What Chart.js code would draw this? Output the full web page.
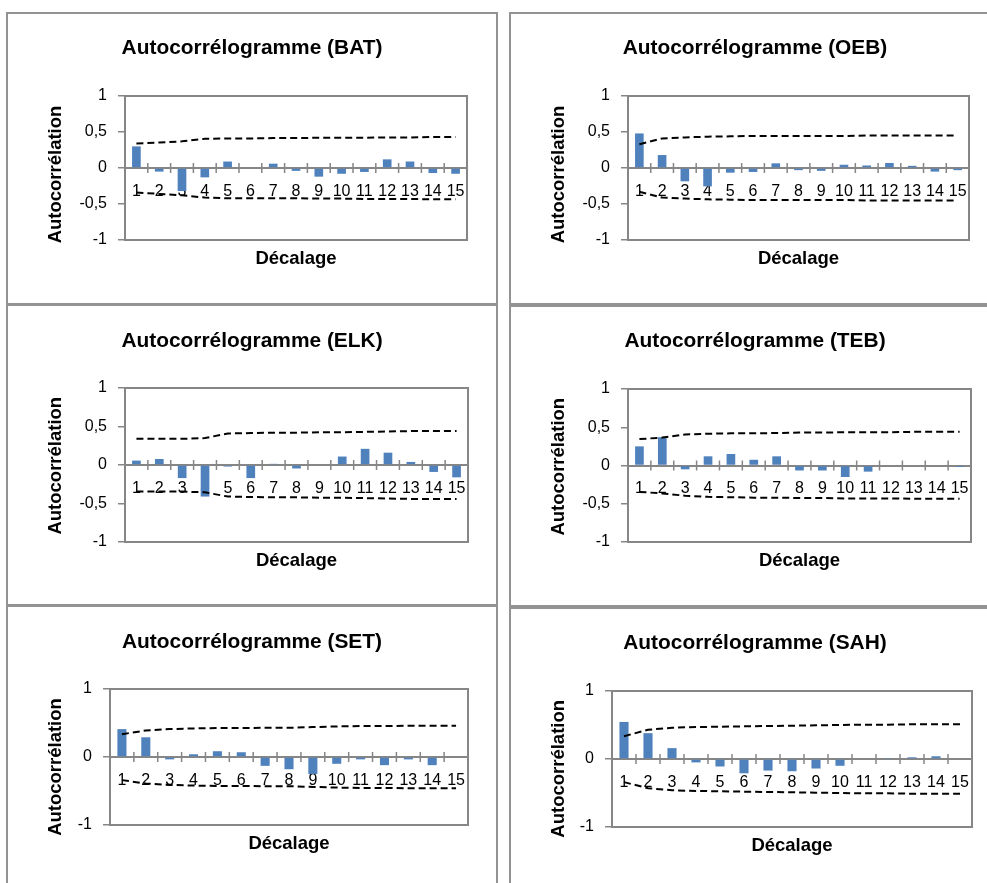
<!DOCTYPE html>
<html lang="fr">
<head>
<meta charset="utf-8">
<title>Autocorrélogrammes</title>
<script src="https://cdn.jsdelivr.net/npm/chart.js@4.4.1/dist/chart.umd.min.js"></script>
<style>
  html, body { margin: 0; padding: 0; background: #fff; width: 987px; height: 883px; overflow: hidden; }
  .frame { position: absolute; box-sizing: border-box; border: 2px solid #939393; }
  canvas { position: absolute; }
</style>
</head>
<body>
<div class="frame" style="left:6px;top:12px;width:492px;height:293px"></div>
<div class="frame" style="left:509px;top:12px;width:492px;height:293px"></div>
<div class="frame" style="left:6px;top:304px;width:492px;height:302px"></div>
<div class="frame" style="left:509px;top:305px;width:492px;height:302px"></div>
<div class="frame" style="left:6px;top:605px;width:492px;height:300px"></div>
<div class="frame" style="left:509px;top:607px;width:492px;height:300px"></div>

<canvas id="cBAT" width="490" height="291" style="left:7px;top:13px"></canvas>
<canvas id="cOEB" width="490" height="291" style="left:510px;top:13px"></canvas>
<canvas id="cELK" width="490" height="301" style="left:7px;top:304px"></canvas>
<canvas id="cTEB" width="490" height="302" style="left:510px;top:305px"></canvas>
<canvas id="cSET" width="490" height="290" style="left:7px;top:605px"></canvas>
<canvas id="cSAH" width="490" height="290" style="left:510px;top:607px"></canvas>

<script>
// Lags (décalages) shown on the category axis
const lags = ['1', '2', '3', '4', '5', '6', '7', '8', '9', '10', '11', '12', '13', '14', '15'];

// Autocorrelation coefficients and confidence bounds per series
const acfBAT = [0.30, -0.05, -0.32, -0.13, 0.09, 0.0, 0.06, -0.04, -0.12, -0.08, -0.055, 0.12, 0.09, -0.07, -0.08];
const upBAT  = [0.34, 0.355, 0.37, 0.405, 0.41, 0.41, 0.415, 0.415, 0.42, 0.42, 0.42, 0.425, 0.425, 0.43, 0.43];
const loBAT  = [-0.34, -0.36, -0.38, -0.41, -0.42, -0.42, -0.42, -0.42, -0.425, -0.425, -0.43, -0.43, -0.43, -0.435, -0.435];

const acfOEB = [0.48, 0.18, -0.185, -0.255, -0.065, -0.055, 0.065, -0.03, -0.04, 0.045, 0.035, 0.07, 0.03, -0.05, -0.03];
const upOEB  = [0.33, 0.41, 0.425, 0.435, 0.44, 0.445, 0.445, 0.445, 0.445, 0.445, 0.45, 0.45, 0.45, 0.45, 0.45];
const loOEB  = [-0.33, -0.41, -0.425, -0.435, -0.44, -0.445, -0.445, -0.445, -0.445, -0.445, -0.45, -0.45, -0.45, -0.45, -0.45];

const acfELK = [0.057, 0.078, -0.17, -0.41, -0.02, -0.17, 0.015, -0.045, 0.0, 0.11, 0.21, 0.16, 0.04, -0.09, -0.16];
const upELK  = [0.34, 0.34, 0.34, 0.35, 0.41, 0.415, 0.42, 0.42, 0.425, 0.425, 0.43, 0.435, 0.44, 0.44, 0.44];
const loELK  = [-0.345, -0.345, -0.345, -0.355, -0.41, -0.415, -0.42, -0.42, -0.425, -0.425, -0.43, -0.435, -0.44, -0.44, -0.44];

const acfTEB = [0.25, 0.37, -0.05, 0.12, 0.15, 0.075, 0.12, -0.065, -0.065, -0.15, -0.08, -0.01, 0.0, 0.0, -0.02];
const upTEB  = [0.345, 0.365, 0.405, 0.415, 0.42, 0.42, 0.425, 0.43, 0.43, 0.435, 0.435, 0.435, 0.44, 0.44, 0.44];
const loTEB  = [-0.345, -0.365, -0.395, -0.41, -0.415, -0.42, -0.42, -0.425, -0.425, -0.43, -0.43, -0.43, -0.435, -0.435, -0.435];

const acfSET = [0.41, 0.29, -0.035, 0.04, 0.085, 0.07, -0.13, -0.18, -0.25, -0.10, -0.035, -0.12, -0.035, -0.12, 0.0];
const upSET  = [0.335, 0.39, 0.41, 0.42, 0.425, 0.425, 0.43, 0.43, 0.44, 0.45, 0.455, 0.455, 0.46, 0.46, 0.46];
const loSET  = [-0.34, -0.39, -0.41, -0.42, -0.425, -0.425, -0.43, -0.43, -0.44, -0.45, -0.455, -0.455, -0.46, -0.46, -0.46];

const acfSAH = [0.545, 0.38, 0.16, -0.05, -0.11, -0.21, -0.17, -0.18, -0.14, -0.10, 0.0, 0.015, 0.025, 0.04, 0.0];
const upSAH  = [0.335, 0.43, 0.46, 0.47, 0.475, 0.48, 0.485, 0.49, 0.495, 0.5, 0.505, 0.505, 0.51, 0.51, 0.51];
const loSAH  = [-0.34, -0.43, -0.46, -0.47, -0.475, -0.48, -0.485, -0.49, -0.495, -0.5, -0.505, -0.505, -0.51, -0.51, -0.51];

// Styling
const FAMILY = "'Liberation Sans', Arial, sans-serif";
const AXIS_GREY = '#868686';
const BAR_BLUE = '#4F81BD';
const SIZE = { title: 20.9, axisTitle: 18.5, tick: 16 };

// Plot-area box and the small cross marks between lags on the zero line
const plotFrame = {
  id: 'plotFrame',
  afterDraw(chart, args, opts) {
    const { ctx, chartArea: a, scales: { x, y } } = chart;
    ctx.save();
    ctx.strokeStyle = opts.color;
    ctx.lineWidth = opts.width;
    ctx.strokeRect(a.left, a.top, a.right - a.left, a.bottom - a.top);
    const y0 = y.getPixelForValue(0);
    ctx.lineWidth = opts.tickWidth;
    ctx.beginPath();
    for (let i = 0; i < x.ticks.length - 1; i++) {
      const bx = (x.getPixelForValue(i) + x.getPixelForValue(i + 1)) / 2;
      ctx.moveTo(bx, y0 - opts.tickHalf);
      ctx.lineTo(bx, y0 + opts.tickHalf);
    }
    ctx.stroke();
    ctx.restore();
  }
};

// Vertical axis caption, placed at a fixed spot of the panel
const sideTitle = {
  id: 'sideTitle',
  afterDraw(chart, args, opts) {
    const { ctx } = chart;
    ctx.save();
    ctx.translate(opts.x, opts.y);
    ctx.rotate(-Math.PI / 2);
    ctx.font = `bold ${opts.size}px ${FAMILY}`;
    ctx.fillStyle = '#000';
    ctx.textAlign = 'center';
    ctx.textBaseline = 'middle';
    ctx.fillText(opts.text, 0, 0);
    ctx.restore();
  }
};

// Panel geometry inside each canvas: plot area edges, title and caption centres
const panels = [
  { id: 'cBAT', code: 'BAT', acf: acfBAT, up: upBAT, lo: loBAT, step: 0.5, w: 490, h: 291, left: 118, right: 460, top: 83, bottom: 227, titleY: 35,   sideX: 48.5, sideY: 161.5 },
  { id: 'cOEB', code: 'OEB', acf: acfOEB, up: upOEB, lo: loOEB, step: 0.5, w: 490, h: 291, left: 118, right: 459, top: 83, bottom: 227, titleY: 35,   sideX: 48.5, sideY: 161.5 },
  { id: 'cELK', code: 'ELK', acf: acfELK, up: upELK, lo: loELK, step: 0.5, w: 490, h: 301, left: 118, right: 461, top: 84, bottom: 238, titleY: 36.8, sideX: 48.5, sideY: 161.7 },
  { id: 'cTEB', code: 'TEB', acf: acfTEB, up: upTEB, lo: loTEB, step: 0.5, w: 490, h: 302, left: 118, right: 461, top: 84, bottom: 237, titleY: 36.7, sideX: 48.5, sideY: 161.7 },
  { id: 'cSET', code: 'SET', acf: acfSET, up: upSET, lo: loSET, step: 1,   w: 490, h: 290, left: 103, right: 461, top: 84, bottom: 220, titleY: 36.8, sideX: 48.5, sideY: 162 },
  { id: 'cSAH', code: 'SAH', acf: acfSAH, up: upSAH, lo: loSAH, step: 1,   w: 490, h: 290, left: 102, right: 462, top: 84, bottom: 220, titleY: 36.3, sideX: 48.5, sideY: 161.8 }
];

function boundLine(values) {
  return {
    type: 'line',
    data: values,
    borderColor: '#000',
    borderWidth: 2,
    borderDash: [7, 4],
    pointRadius: 0,
    fill: false,
    tension: 0,
    order: 0
  };
}

panels.forEach(p => {
  const titleLH = SIZE.title * 1.2;
  const subLH = SIZE.axisTitle * 1.2;
  const titleTop = p.titleY - titleLH / 2;
  const subGap = 19;
  // equal side margins keep the title centred on the panel
  const side = p.w - p.right;

  new Chart(document.getElementById(p.id), {
    type: 'bar',
    data: {
      labels: lags,
      datasets: [
        boundLine(p.up),
        boundLine(p.lo),
        {
          type: 'bar',
          data: p.acf,
          backgroundColor: BAR_BLUE,
          borderWidth: 0,
          barPercentage: 0.38,
          categoryPercentage: 1,
          order: 1
        }
      ]
    },
    options: {
      responsive: false,
      animation: false,
      events: [],
      layout: { padding: { left: side, top: 0, bottom: 0, right: side } },
      plugins: {
        legend: { display: false },
        tooltip: { enabled: false },
        title: {
          display: true,
          text: `Autocorrélogramme (${p.code})`,
          color: '#000',
          font: { family: FAMILY, size: SIZE.title, weight: 'bold' },
          padding: { top: titleTop, bottom: p.top - titleTop - titleLH }
        },
        subtitle: {
          display: true,
          position: 'bottom',
          fullSize: false,
          text: 'Décalage',
          color: '#000',
          font: { family: FAMILY, size: SIZE.axisTitle, weight: 'bold' },
          padding: { top: subGap - subLH / 2, bottom: p.h - p.bottom - subGap - subLH / 2 }
        },
        plotFrame: { color: AXIS_GREY, width: 2, tickWidth: 1.5, tickHalf: 5 },
        sideTitle: { text: 'Autocorrélation', x: p.sideX, y: p.sideY, size: SIZE.axisTitle }
      },
      scales: {
        x: {
          type: 'category',
          position: { y: 0 },
          offset: true,
          z: 1,
          grid: { display: false, drawTicks: false },
          border: { display: true, color: AXIS_GREY, width: 2 },
          ticks: {
            color: '#000',
            font: { family: FAMILY, size: SIZE.tick },
            padding: 13.9,
            autoSkip: false,
            maxRotation: 0,
            minRotation: 0
          }
        },
        y: {
          min: -1,
          max: 1,
          ticks: {
            stepSize: p.step,
            color: '#000',
            font: { family: FAMILY, size: SIZE.tick },
            padding: 11,
            callback: v => String(v).replace('.', ',')
          },
          grid: { display: true, drawOnChartArea: false, drawTicks: true, tickLength: 7, color: AXIS_GREY, lineWidth: 1.5 },
          border: { display: true, color: AXIS_GREY, width: 2 },
          afterFit(scale) { scale.width = p.left - side; }
        }
      }
    },
    plugins: [plotFrame, sideTitle]
  });
});
</script>
</body>
</html>
